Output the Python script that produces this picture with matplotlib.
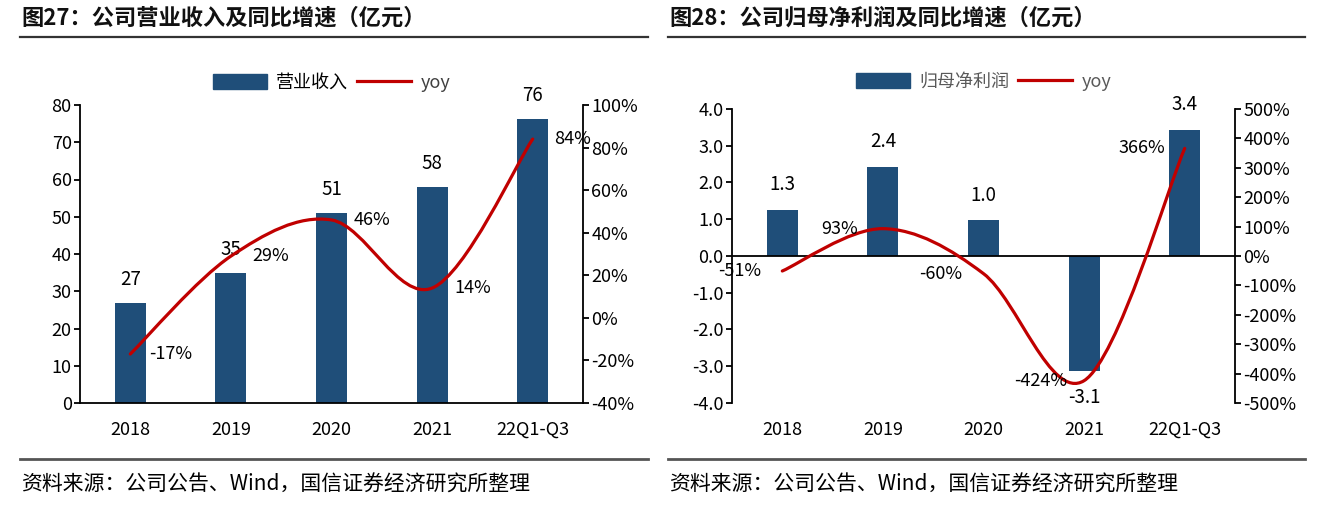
import numpy as np
import matplotlib.pyplot as plt
from matplotlib.path import Path
from matplotlib.patches import PathPatch, Patch
from matplotlib.lines import Line2D

plt.rcParams['font.family'] = ['Liberation Sans Narrow', 'Noto Sans CJK SC', 'DejaVu Sans']

# data
cats = ['2018', '2019', '2020', '2021', '22Q1-Q3']
revenue = [26.8, 34.9, 51.0, 58.0, 76.2]
revenue_yoy = [-17, 29, 46, 14, 84]
profit = [1.26, 2.43, 0.97, -3.13, 3.44]
profit_yoy = [-51, 93, -60, -424, 366]

rev_ticks = [0, 10, 20, 30, 40, 50, 60, 70, 80]
rev_yoy_ticks = [-40, -20, 0, 20, 40, 60, 80, 100]
prof_ticks = [-4, -3, -2, -1, 0, 1, 2, 3, 4]
prof_yoy_ticks = [-500, -400, -300, -200, -100, 0, 100, 200, 300, 400, 500]

BAR = '#1f4e79'
RED = '#c00000'
W, H = 1329, 517
CJK = ['Noto Sans CJK SC', 'DejaVu Sans']


def smooth_path(x, y):
    # excel-like smoothed line (catmull-rom as bezier segments)
    pts = np.column_stack([x, y]).astype(float)
    n = len(pts)
    verts = [pts[0]]
    codes = [Path.MOVETO]
    for i in range(n - 1):
        p0 = pts[i - 1] if i > 0 else pts[i]
        p1 = pts[i]
        p2 = pts[i + 1]
        p3 = pts[i + 2] if i + 2 < n else pts[i + 1]
        verts += [p1 + (p2 - p0) / 6, p2 - (p3 - p1) / 6, p2]
        codes += [Path.CURVE4] * 3
    return Path(verts, codes)


def fx(px):
    return px / W


def fy(py):
    return 1 - py / H


fig = plt.figure(figsize=(W / 100, H / 100), dpi=100)

# frame: titles, rules, sources
for x0, x1, title in [(20, 648, '图27：公司营业收入及同比增速（亿元）'),
                      (668, 1305, '图28：公司归母净利润及同比增速（亿元）')]:
    fig.text(fx(x0 + 1), fy(18), title, fontsize=16, va='center', ha='left',
             family=CJK, weight='bold', color='#111111')
    fig.add_artist(Line2D([fx(x0), fx(x1)], [fy(37), fy(37)], color='#333333', lw=1.6))
    fig.add_artist(Line2D([fx(x0), fx(x1)], [fy(459), fy(459)], color='#555555', lw=2))
    fig.text(fx(x0 + 1), fy(485), '资料来源：公司公告、Wind，国信证券经济研究所整理',
             fontsize=15, va='center', ha='left', family=CJK, color='black')

x = np.arange(len(cats))

# ---------- left: revenue ----------
ax = fig.add_axes([fx(80), fy(403), fx(503), 298 / H])
ax.bar(x, revenue, width=0.31, color=BAR, zorder=2)
ax.set_xlim(-0.5, 4.5)
ax.set_ylim(0, 80)
ax.set_yticks(rev_ticks)
ax.set_xticks(x)
ax.set_xticklabels(cats)
for v, xi in zip(revenue, x):
    ax.annotate(f'{v:.0f}', (xi, v), xytext=(0, 17), textcoords='offset points',
                ha='center', va='center', fontsize=13.5)
ax2 = ax.twinx()
ax2.set_ylim(-40, 100)
ax2.set_yticks(rev_yoy_ticks)
ax2.set_yticklabels([f'{t}%' for t in rev_yoy_ticks])
ax2.add_patch(PathPatch(smooth_path(x, revenue_yoy), fill=False, edgecolor=RED, lw=2.3,
                        capstyle='round', zorder=3))
for v, xi in zip(revenue_yoy, x):
    ax2.annotate(f'{v}%', (xi, v), xytext=(29, 0), textcoords='offset points',
                 ha='center', va='center', fontsize=13)
for a in (ax, ax2):
    a.spines['top'].set_visible(False)
    a.spines['left'].set_visible(a is ax)
    a.spines['right'].set_visible(a is ax2)
    for s in a.spines.values():
        s.set_linewidth(1.3)
        s.set_color('black')
    a.tick_params(axis='y', length=4, width=1.3, labelsize=13, pad=2)
    a.tick_params(axis='x', length=0, labelsize=13, pad=13)
ax2.spines['bottom'].set_visible(False)

handles = [Patch(color=BAR), Line2D([], [], color=RED, lw=2.3)]
leg = ax.legend(handles, ['营业收入', 'yoy'], loc='center', bbox_to_anchor=(0.5, 1.074),
                ncol=2, frameon=False, handlelength=3.0, handleheight=0.9,
                handletextpad=0.5, columnspacing=0.5, fontsize=13)
for t, c in zip(leg.get_texts(), ['black', '#404040']):
    t.set_color(c)
    t.set_family(CJK)

# ---------- right: net profit ----------
bx = fig.add_axes([fx(732), fy(403), fx(503), 294 / H])
bx.bar(x, profit, width=0.31, color=BAR, zorder=2)
bx.axhline(0, color='black', lw=1.3, zorder=3)
bx.set_xlim(-0.5, 4.5)
bx.set_ylim(-4, 4)
bx.set_yticks(prof_ticks)
bx.set_yticklabels([f'{t:.1f}' for t in prof_ticks])
bx.set_xticks(x)
bx.set_xticklabels(cats)
for v, xi in zip(profit, x):
    off = 18 if v >= 0 else -19
    bx.annotate(f'{v:.1f}', (xi, v), xytext=(0, off), textcoords='offset points',
                ha='center', va='center', fontsize=13.5)
bx2 = bx.twinx()
bx2.set_ylim(-500, 500)
bx2.set_yticks(prof_yoy_ticks)
bx2.set_yticklabels([f'{t}%' for t in prof_yoy_ticks])
bx2.add_patch(PathPatch(smooth_path(x, profit_yoy), fill=False, edgecolor=RED, lw=2.3,
                        capstyle='round', zorder=3))
for v, xi in zip(profit_yoy, x):
    bx2.annotate(f'{v}%', (xi, v), xytext=(-31, 0), textcoords='offset points',
                 ha='center', va='center', fontsize=13)
for a in (bx, bx2):
    a.spines['top'].set_visible(False)
    a.spines['bottom'].set_visible(False)
    a.spines['left'].set_visible(a is bx)
    a.spines['right'].set_visible(a is bx2)
    for s in a.spines.values():
        s.set_linewidth(1.3)
        s.set_color('black')
    a.tick_params(axis='y', length=4, width=1.3, labelsize=13, pad=2)
    a.tick_params(axis='x', length=0, labelsize=13, pad=13)

leg = bx.legend(handles, ['归母净利润', 'yoy'], loc='center', bbox_to_anchor=(0.5, 1.092),
                ncol=2, frameon=False, handlelength=3.0, handleheight=0.9,
                handletextpad=0.5, columnspacing=0.5, fontsize=13)
for t in leg.get_texts():
    t.set_color('#595959')
    t.set_family(CJK)

fig.savefig('out.png', dpi=100)
